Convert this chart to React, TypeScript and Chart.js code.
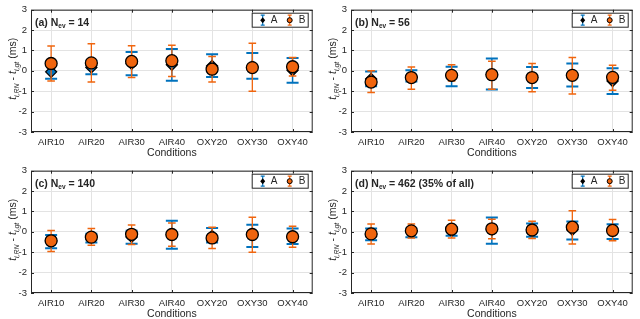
import React, { useEffect, useRef } from 'react';
import { Chart, registerables } from 'chart.js';
Chart.register(...registerables);

const FONT = '"Liberation Sans", Arial, Helvetica, sans-serif';
const BLUE = '#0072BD';
const ORANGE = '#F0650E';
const AXIS = '#262626';
const GRID = '#E3E3E3';

const categories = ['AIR10', 'AIR20', 'AIR30', 'AIR40', 'OXY20', 'OXY30', 'OXY40'];
const yMin = -3;
const yMax = 3;
const seriesNames = ['A', 'B'];
const panelLabels = ['(a)', '(b)', '(c)', '(d)'];
const panelCounts = ['14', '56', '140', '462 (35% of all)'];

// Panel (a)
const aMeanA = [-0.05, 0.17, 0.35, 0.3, 0.24, 0.22, 0.03];
const aLoA = [-0.39, -0.17, -0.22, -0.49, -0.3, -0.39, -0.58];
const aHiA = [0.28, 0.5, 0.92, 1.07, 0.82, 0.87, 0.63];
const aMeanB = [0.36, 0.39, 0.46, 0.5, 0.08, 0.16, 0.2];
const aLoB = [-0.5, -0.55, -0.33, -0.28, -0.55, -1.0, -0.25];
const aHiB = [1.22, 1.33, 1.23, 1.26, 0.71, 1.36, 0.65];

// Panel (b)
const bMeanA = [-0.4, -0.28, -0.25, -0.17, -0.32, -0.2, -0.5];
const bLoA = [-0.76, -0.52, -0.76, -0.92, -0.84, -0.77, -1.14];
const bHiA = [-0.03, 0.03, 0.2, 0.6, 0.19, 0.36, 0.13];
const bMeanB = [-0.55, -0.33, -0.22, -0.19, -0.33, -0.22, -0.32];
const bLoB = [-1.06, -0.9, -0.5, -0.9, -1.03, -1.14, -0.95];
const bHiB = [0.0, 0.19, 0.3, 0.47, 0.36, 0.66, 0.27];

// Panel (c)
const cMeanA = [-0.45, -0.25, -0.25, -0.15, -0.2, -0.15, -0.22];
const cLoA = [-0.8, -0.52, -0.58, -0.83, -0.52, -0.74, -0.6];
const cHiA = [-0.16, -0.09, 0.05, 0.55, 0.19, 0.35, 0.16];
const cMeanB = [-0.44, -0.26, -0.12, -0.13, -0.3, -0.13, -0.24];
const cLoB = [-0.96, -0.66, -0.62, -0.71, -0.82, -1.0, -0.76];
const cHiB = [0.07, 0.16, 0.33, 0.44, 0.22, 0.72, 0.27];

// Panel (d)
const dMeanA = [-0.1, 0.05, 0.05, 0.1, 0.1, 0.1, 0.05];
const dLoA = [-0.41, -0.26, -0.19, -0.58, -0.24, -0.37, -0.35];
const dHiA = [0.16, 0.16, 0.21, 0.71, 0.41, 0.51, 0.37];
const dMeanB = [-0.1, 0.05, 0.13, 0.15, 0.09, 0.23, 0.07];
const dLoB = [-0.6, -0.3, -0.3, -0.34, -0.33, -0.6, -0.44];
const dHiB = [0.38, 0.38, 0.57, 0.62, 0.52, 1.04, 0.6];

const errorBarPlugin = {
  id: 'errorBars',
  beforeDatasetDraw(chart: any, args: any) {
    const ds = chart.data.datasets[args.index];
    if (!ds.lo) return;
    const xs = chart.scales.x;
    const ys = chart.scales.y;
    const ctx = chart.ctx;
    ctx.save();
    ctx.strokeStyle = ds.errColor;
    ds.lo.forEach((lo: number, i: number) => {
      const px = xs.getPixelForValue(i);
      const yl = ys.getPixelForValue(lo);
      const yh = ys.getPixelForValue(ds.hi[i]);
      ctx.lineWidth = ds.errWidth;
      ctx.beginPath();
      ctx.moveTo(px, yl);
      ctx.lineTo(px, yh);
      ctx.stroke();
      ctx.lineWidth = ds.capThick;
      ctx.beginPath();
      ctx.moveTo(px - ds.capHalf, yl);
      ctx.lineTo(px + ds.capHalf, yl);
      ctx.moveTo(px - ds.capHalf, yh);
      ctx.lineTo(px + ds.capHalf, yh);
      ctx.stroke();
    });
    ctx.restore();
  },
};

const framePlugin = {
  id: 'frame',
  afterDraw(chart: any, _args: any, opts: any) {
    const ctx = chart.ctx;
    const { left, right, top, bottom } = chart.chartArea;
    const xs = chart.scales.x;
    const ys = chart.scales.y;
    ctx.save();
    // box
    ctx.strokeStyle = AXIS;
    ctx.lineWidth = 1;
    ctx.strokeRect(left + 0.5, top + 0.5, right - left - 1, bottom - top - 1);
    // inward ticks
    ctx.beginPath();
    categories.forEach((_c, i) => {
      const px = Math.round(xs.getPixelForValue(i)) + 0.5;
      ctx.moveTo(px, bottom);
      ctx.lineTo(px, bottom - 3);
      ctx.moveTo(px, top);
      ctx.lineTo(px, top + 3);
    });
    for (let v = yMin; v <= yMax; v++) {
      const py = Math.round(ys.getPixelForValue(v)) + 0.5;
      ctx.moveTo(left, py);
      ctx.lineTo(left + 3, py);
      ctx.moveTo(right, py);
      ctx.lineTo(right - 3, py);
    }
    ctx.stroke();

    // panel title
    ctx.fillStyle = AXIS;
    ctx.textBaseline = 'alphabetic';
    ctx.textAlign = 'left';
    let tx = left + 4;
    const ty = top + 16;
    ctx.font = `bold 10.5px ${FONT}`;
    const t1 = `${opts.label} N`;
    ctx.fillText(t1, tx, ty);
    tx += ctx.measureText(t1).width;
    ctx.font = `bold 6.5px ${FONT}`;
    ctx.fillText('ev', tx, ty + 2.5);
    tx += ctx.measureText('ev').width;
    ctx.font = `bold 10.5px ${FONT}`;
    ctx.fillText(` = ${opts.count}`, tx, ty);

    // legend
    const lw = 57;
    const lh = 15;
    const lx = right - 4 - lw;
    const ly = top + 3;
    ctx.fillStyle = '#ffffff';
    ctx.fillRect(lx, ly, lw, lh);
    ctx.strokeStyle = AXIS;
    ctx.lineWidth = 1;
    ctx.strokeRect(lx + 0.5, ly + 0.5, lw - 1, lh - 1);
    const cy = ly + lh / 2;
    const drawGlyph = (gx: number, color: string, diamond: boolean) => {
      ctx.strokeStyle = color;
      ctx.lineWidth = 1.2;
      ctx.beginPath();
      ctx.moveTo(gx, cy - 5);
      ctx.lineTo(gx, cy + 5);
      ctx.moveTo(gx - 2, cy - 5);
      ctx.lineTo(gx + 2, cy - 5);
      ctx.moveTo(gx - 2, cy + 5);
      ctx.lineTo(gx + 2, cy + 5);
      ctx.stroke();
      ctx.beginPath();
      if (diamond) {
        ctx.moveTo(gx, cy - 3);
        ctx.lineTo(gx + 2.5, cy);
        ctx.lineTo(gx, cy + 3);
        ctx.lineTo(gx - 2.5, cy);
        ctx.closePath();
        ctx.fillStyle = '#000000';
        ctx.fill();
      } else {
        ctx.arc(gx, cy, 2.5, 0, Math.PI * 2);
        ctx.fillStyle = color;
        ctx.fill();
        ctx.strokeStyle = '#000000';
        ctx.lineWidth = 1;
        ctx.stroke();
      }
    };
    drawGlyph(lx + 11, BLUE, true);
    drawGlyph(lx + 38, ORANGE, false);
    ctx.fillStyle = AXIS;
    ctx.font = `10px ${FONT}`;
    ctx.textBaseline = 'middle';
    ctx.fillText(seriesNames[0], lx + 19, cy + 0.5);
    ctx.fillText(seriesNames[1], lx + 47, cy + 0.5);

    // y-axis title
    ctx.save();
    const cyTitle = (top + bottom) / 2 - 2;
    ctx.translate(16, cyTitle);
    ctx.rotate(-Math.PI / 2);
    ctx.textBaseline = 'alphabetic';
    const segs: [string, string, number][] = [
      ['t', `italic 10.5px ${FONT}`, 0],
      ['i,RN', `italic 7px ${FONT}`, 3],
      [' - ', `10.5px ${FONT}`, 0],
      ['t', `italic 10.5px ${FONT}`, 0],
      ['i,gt', `italic 7px ${FONT}`, 3],
      [' (ms)', `10.5px ${FONT}`, 0],
    ];
    let total = 0;
    segs.forEach(([s, f]) => {
      ctx.font = f;
      total += ctx.measureText(s).width;
    });
    let sx = -total / 2;
    ctx.fillStyle = AXIS;
    segs.forEach(([s, f, dy]) => {
      ctx.font = f;
      ctx.fillText(s, sx, dy);
      sx += ctx.measureText(s).width;
    });
    ctx.restore();

    ctx.restore();
  },
};

type PanelProps = {
  left: number;
  top: number;
  label: string;
  count: string;
  meanA: number[];
  loA: number[];
  hiA: number[];
  meanB: number[];
  loB: number[];
  hiB: number[];
};

function Panel(p: PanelProps) {
  const ref = useRef<HTMLCanvasElement>(null);
  useEffect(() => {
    const chart = new Chart(ref.current as HTMLCanvasElement, {
      type: 'line',
      data: {
        labels: categories,
        datasets: [
          {
            label: seriesNames[0],
            data: p.meanA,
            showLine: false,
            order: 2,
            pointStyle: 'rectRot',
            pointRadius: 5.5,
            pointBackgroundColor: BLUE,
            pointBorderColor: '#000000',
            pointBorderWidth: 1.3,
            lo: p.loA,
            hi: p.hiA,
            errColor: BLUE,
            errWidth: 1.5,
            capThick: 2,
            capHalf: 6,
          } as any,
          {
            label: seriesNames[1],
            data: p.meanB,
            showLine: false,
            order: 1,
            pointStyle: 'circle',
            pointRadius: 6,
            pointBackgroundColor: ORANGE,
            pointBorderColor: '#000000',
            pointBorderWidth: 1.3,
            lo: p.loB,
            hi: p.hiB,
            errColor: ORANGE,
            errWidth: 1.3,
            capThick: 1.5,
            capHalf: 3.8,
          } as any,
        ],
      },
      options: {
        animation: false,
        responsive: false,
        devicePixelRatio: 1,
        layout: { padding: { left: 0, top: 5, right: 6, bottom: 0 } },
        plugins: {
          legend: { display: false },
          tooltip: { enabled: false },
          frame: { label: p.label, count: p.count },
        } as any,
        scales: {
          x: {
            type: 'category',
            offset: true,
            grid: { offset: false, color: GRID, drawTicks: false, lineWidth: 1 },
            border: { display: false },
            ticks: { color: AXIS, font: { family: FONT, size: 9.5 }, padding: 5, maxRotation: 0, autoSkip: false },
            title: {
              display: true,
              text: 'Conditions',
              color: AXIS,
              font: { family: FONT, size: 10.5 },
              padding: { top: 0, bottom: 1 },
            },
            afterFit: (s: any) => {
              s.height = 28;
            },
          },
          y: {
            min: yMin,
            max: yMax,
            grid: { color: GRID, drawTicks: false, lineWidth: 1 },
            border: { display: false },
            ticks: { stepSize: 1, color: AXIS, font: { family: FONT, size: 9.5 }, padding: 4 },
            afterFit: (s: any) => {
              s.width = 31;
            },
          },
        },
      },
      plugins: [errorBarPlugin, framePlugin],
    });
    return () => chart.destroy();
  }, []);
  return (
    <canvas
      ref={ref}
      width={320}
      height={160}
      style={{ position: 'absolute', left: p.left, top: p.top, width: 320, height: 160 }}
    />
  );
}

export default function App() {
  return (
    <div
      style={{
        position: 'fixed',
        left: 0,
        top: 0,
        width: 640,
        height: 319,
        overflow: 'hidden',
        background: '#ffffff',
      }}
    >
      <Panel left={0} top={0} label={panelLabels[0]} count={panelCounts[0]}
        meanA={aMeanA} loA={aLoA} hiA={aHiA} meanB={aMeanB} loB={aLoB} hiB={aHiB} />
      <Panel left={320} top={0} label={panelLabels[1]} count={panelCounts[1]}
        meanA={bMeanA} loA={bLoA} hiA={bHiA} meanB={bMeanB} loB={bLoB} hiB={bHiB} />
      <Panel left={0} top={161} label={panelLabels[2]} count={panelCounts[2]}
        meanA={cMeanA} loA={cLoA} hiA={cHiA} meanB={cMeanB} loB={cLoB} hiB={cHiB} />
      <Panel left={320} top={161} label={panelLabels[3]} count={panelCounts[3]}
        meanA={dMeanA} loA={dLoA} hiA={dHiA} meanB={dMeanB} loB={dLoB} hiB={dHiB} />
    </div>
  );
}
